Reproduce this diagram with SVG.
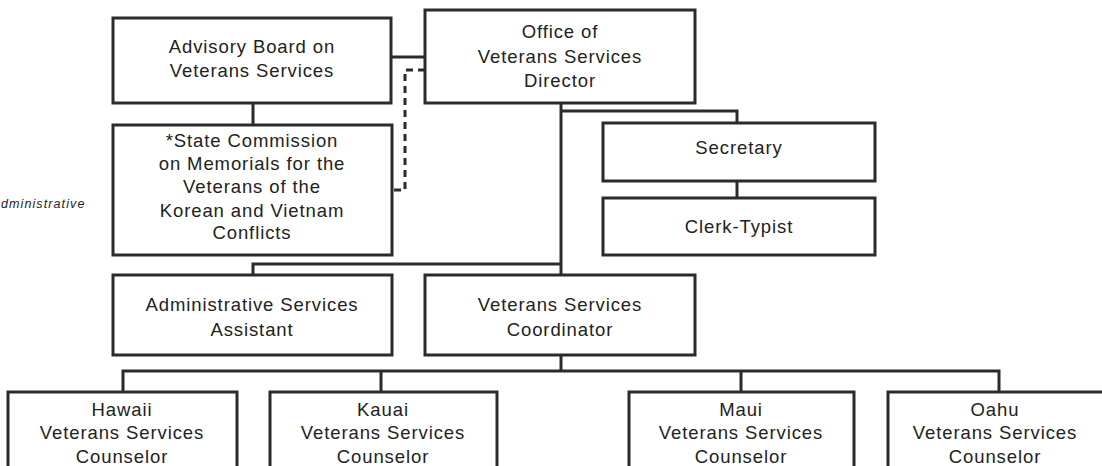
<svg xmlns="http://www.w3.org/2000/svg" width="1102" height="466" viewBox="0 0 1102 466">
<style>
.box{fill:#fff;stroke:#2b2b2b;stroke-width:3}
.ln{fill:none;stroke:#2b2b2b;stroke-width:3}
.dash{fill:none;stroke:#2b2b2b;stroke-width:3;stroke-dasharray:7 5}
text{font-family:"Liberation Sans",Arial,sans-serif;font-size:18.5px;fill:#222;text-anchor:middle;letter-spacing:0.9px}
.note{font-size:12.5px;font-style:italic;text-anchor:start;letter-spacing:1.1px}
</style>
<rect width="1102" height="466" fill="#fff"/>
<g id="connectors">
<path class="ln" d="M391,57H425"/>
<path class="dash" d="M425,70H405V190H391"/>
<path class="ln" d="M253,103V125"/>
<path class="ln" d="M561,103V275"/>
<path class="ln" d="M561,111H737V123"/>
<path class="ln" d="M737,181V198"/>
<path class="ln" d="M561,264H253V275"/>
<path class="ln" d="M561,355V371"/>
<path class="ln" d="M123,392V371H999V392"/>
<path class="ln" d="M381,371V392"/>
<path class="ln" d="M741,371V392"/>
</g>
<g id="advisory"><rect class="box" x="113" y="18" width="278" height="85"/>
<text x="252" y="53">Advisory Board on</text><text x="252" y="77">Veterans Services</text></g>
<g id="office"><rect class="box" x="425" y="10" width="270" height="93"/>
<text x="560" y="38">Office of</text><text x="560" y="63">Veterans Services</text><text x="560" y="87">Director</text></g>
<g id="commission"><rect class="box" x="113" y="125" width="279" height="130"/>
<text x="252" y="147">*State Commission</text><text x="252" y="170">on Memorials for the</text><text x="252" y="193">Veterans of the</text><text x="252" y="217">Korean and Vietnam</text><text x="252" y="239">Conflicts</text></g>
<g id="secretary"><rect class="box" x="603" y="123" width="272" height="58"/>
<text x="739" y="154">Secretary</text></g>
<g id="clerk"><rect class="box" x="603" y="198" width="272" height="57"/>
<text x="739" y="233">Clerk-Typist</text></g>
<g id="admin"><rect class="box" x="113" y="275" width="279" height="80"/>
<text x="252" y="311">Administrative Services</text><text x="252" y="336">Assistant</text></g>
<g id="coordinator"><rect class="box" x="425" y="275" width="270" height="80"/>
<text x="560" y="311">Veterans Services</text><text x="560" y="336">Coordinator</text></g>
<g id="hawaii"><rect class="box" x="8" y="392" width="229" height="90"/>
<text x="122" y="416">Hawaii</text><text x="122" y="439">Veterans Services</text><text x="122" y="463">Counselor</text></g>
<g id="kauai"><rect class="box" x="270" y="392" width="227" height="90"/>
<text x="383" y="416">Kauai</text><text x="383" y="439">Veterans Services</text><text x="383" y="463">Counselor</text></g>
<g id="maui"><rect class="box" x="629" y="392" width="225" height="90"/>
<text x="741" y="416">Maui</text><text x="741" y="439">Veterans Services</text><text x="741" y="463">Counselor</text></g>
<g id="oahu"><rect class="box" x="888" y="392" width="230" height="90"/>
<text x="995" y="416">Oahu</text><text x="995" y="439">Veterans Services</text><text x="995" y="463">Counselor</text></g>
<text class="note" x="1" y="208">dministrative</text>
</svg>
